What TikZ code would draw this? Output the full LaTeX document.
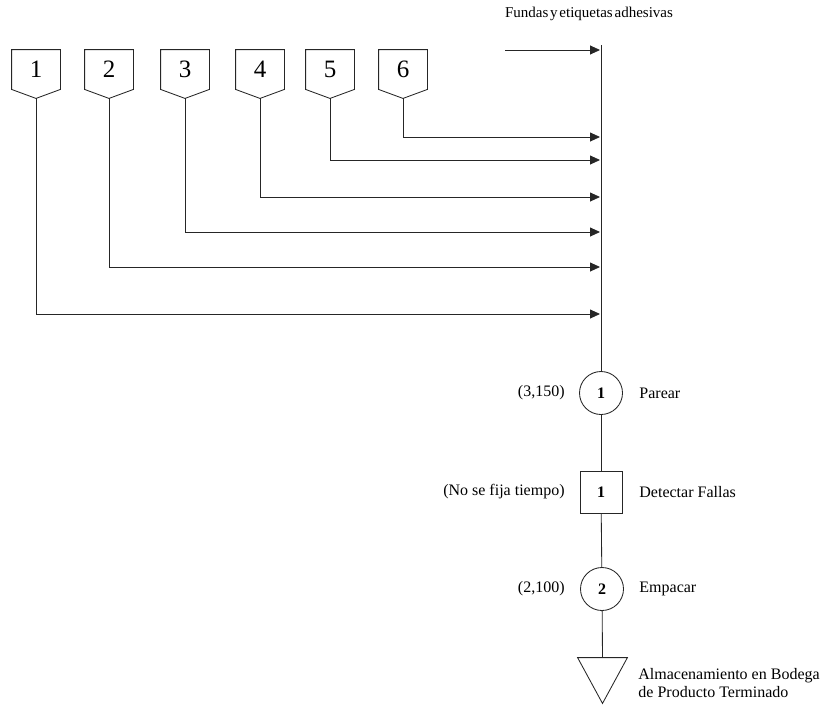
\documentclass[tikz,border=0pt]{standalone}
\usepackage{fontspec}
\setmainfont{Liberation Serif}
\usetikzlibrary{arrows.meta}
\begin{document}
\begin{tikzpicture}[x=1pt,y=-1pt,
  line width=0.85pt,
  flow/.style={draw=black!85},
  feed/.style={flow,-{Triangle[length=10pt,width=9pt]}},
  numbox/.style={minimum width=48pt,minimum height=39pt,inner sep=0pt,font=\fontsize{25}{25}\selectfont},
  opcircle/.style={flow,circle,minimum size=43pt,inner sep=0pt,font=\fontsize{16}{16}\selectfont\bfseries},
  inspbox/.style={flow,rectangle,minimum size=42pt,inner sep=0pt,font=\fontsize{16}{16}\selectfont\bfseries},
  lbl/.style={inner sep=0pt,font=\fontsize{16}{18}\selectfont}
]
\useasboundingbox (0,0) rectangle (835,704);

% incoming components (off-page connectors)
\foreach \i/\x in {1/36,2/109,3/185,4/260,5/330,6/403}{
  \node[numbox] (b\i) at (\x,69.5) {\i};
  \draw[flow] (b\i.north west) -- (b\i.north east) -- (b\i.south east)
    -- ([yshift=-9pt]b\i.south) -- (b\i.south west) -- cycle;
  \coordinate (t\i) at ([yshift=-9pt]b\i.south);
}

% main assembly line
\coordinate (top) at (601,45);
\coordinate (src) at (505,50);
\coordinate (in0) at (600,50);
\foreach \i/\y in {1/314,2/267,3/232,4/197,5/160,6/137}{
  \coordinate (in\i) at (600,\y);
}

\node[opcircle] (p1) at (601,393) {1};
\node[inspbox] (q1) at (601,492) {1};
\node[opcircle] (p2) at (602,589) {2};
\node[minimum width=49pt,minimum height=45pt,inner sep=0pt] (st) at (602.5,680.5) {};
\draw[flow] (st.north west) -- (st.north east) -- (st.south) -- cycle;

\draw[flow] (top) -- (p1);
\draw[flow] (p1) -- (q1);
\draw[flow] (q1) -- (p2);
\draw[flow] (p2) -- (st.north);

% feeds into the line
\draw[feed] (src) -- (in0);
\foreach \i in {1,...,6}{
  \draw[feed] (t\i) |- (in\i);
}

% labels
\node[lbl,font=\fontsize{15}{18}\selectfont] (lfund) at (589,14) {{\spaceskip 0.12em Fundas y etiquetas adhesivas}};
\node[lbl,anchor=east] (lt1) at (565,393) {(3,150)};
\node[lbl,anchor=west] (ln1) at (639,393) {Parear};
\node[lbl,anchor=east] (lt2) at (565,492) {(No se fija tiempo)};
\node[lbl,anchor=west] (ln2) at (639,492) {Detectar Fallas};
\node[lbl,anchor=east] (lt3) at (565,589) {(2,100)};
\node[lbl,anchor=west] (ln3) at (639,589) {Empacar};
\node[lbl,anchor=west,align=left] (ln4) at (638,683) {Almacenamiento en Bodega\\de Producto Terminado};
\end{tikzpicture}
\end{document}
